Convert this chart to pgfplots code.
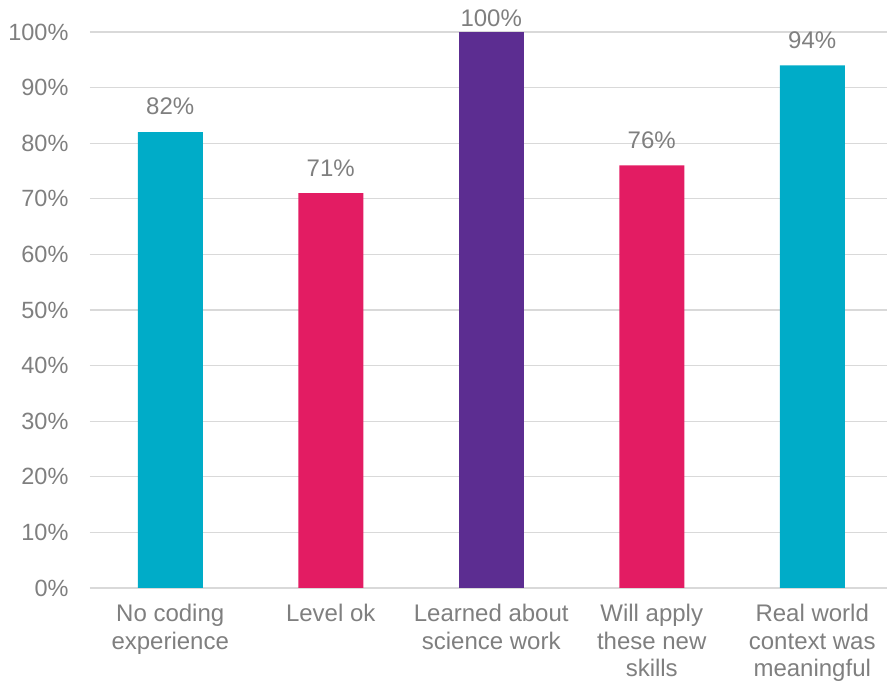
\documentclass[border=0pt]{standalone}
\usepackage{fontspec}
\setmainfont{Liberation Sans}
\usepackage{pgfplots}
\pgfplotsset{compat=1.18}
\definecolor{cyanbar}{HTML}{00ACC8}
\definecolor{pinkbar}{HTML}{E31C63}
\definecolor{purplebar}{HTML}{5C2D91}
\definecolor{txtgray}{HTML}{7F7F7F}
\definecolor{gridgray}{HTML}{D9D9D9}
\begin{document}
\begin{tikzpicture}[x=1pt,y=1pt]
\useasboundingbox (0,0) rectangle (887,682);
\begin{axis}[
  at={(90pt,94pt)}, anchor=south west,
  scale only axis, width=802.5pt, height=556pt,
  xmin=-0.5, xmax=4.5, ymin=0, ymax=100,
  axis x line*=bottom, axis y line*=left,
  x axis line style={draw=gridgray, line width=1.2pt, -},
  y axis line style={draw=none},
  ymajorgrids, grid style={gridgray, line width=1.2pt},
  ytick={0,10,...,100},
  yticklabel={\pgfmathprintnumber{\tick}\%},
  xtick={0,1,2,3,4},
  xticklabels={{No coding\\experience},{Level ok},{Learned about\\science work},{Will apply\\these new\\skills},{Real world\\context was\\meaningful}},
  xticklabel style={align=center, font=\fontsize{24}{27.5}\selectfont, text=txtgray, yshift=-13pt},
  yticklabel style={font=\fontsize{23.5}{28}\selectfont, text=txtgray, xshift=-18pt},
  /pgf/number format/assume math mode=true,
  major tick length=0pt,
  ybar, bar width=65pt, bar shift=0pt,
  clip=false,
  nodes near coords={\pgfmathprintnumber{\pgfplotspointmeta}\%},
  nodes near coords style={font=\fontsize{24}{28}\selectfont, text=txtgray, anchor=south, yshift=13.5pt},
  every axis plot/.append style={draw=none},
]
\addplot[fill=cyanbar] coordinates {(0,82) (4,94)};
\addplot[fill=pinkbar] coordinates {(1,71) (3,76)};
\addplot[fill=purplebar, nodes near coords style={yshift=-12pt}] coordinates {(2,100)};
\end{axis}
\end{tikzpicture}
\end{document}
